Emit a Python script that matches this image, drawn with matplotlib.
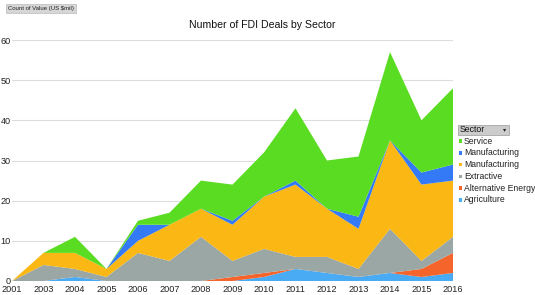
import matplotlib
matplotlib.use("Agg")
import matplotlib.pyplot as plt
import numpy as np

plt.rcParams['font.family'] = ['Liberation Sans', 'DejaVu Sans']

years = ["2001", "2003", "2004", "2005", "2006", "2007", "2008", "2009",
         "2010", "2011", "2012", "2013", "2014", "2015", "2016"]
agriculture = [0, 0, 1, 0, 0, 0, 0, 0, 1, 3, 2, 1, 2, 1, 2]
alt_energy = [0, 0, 0, 0, 0, 0, 0, 1, 1, 0, 0, 0, 0, 2, 5]
extractive = [0, 4, 2, 1, 7, 5, 11, 4, 6, 3, 4, 2, 11, 2, 4]
manufacturing_y = [0, 3, 4, 2, 3, 9, 7, 9, 13, 18, 12, 10, 22, 19, 14]
manufacturing_b = [0, 0, 0, 0, 4, 0, 0, 1, 0, 1, 0, 3, 0, 3, 4]
service = [0, 0, 4, 0, 1, 3, 7, 9, 11, 18, 12, 15, 22, 13, 19]

series_names = ["Agriculture", "Alternative Energy", "Extractive",
                "Manufacturing", "Manufacturing", "Service"]
colors = ["#4AABF5", "#F5642A", "#9AA7A5", "#FBB713", "#3479F6", "#5ADC23"]

fig = plt.figure(figsize=(5.35, 2.95), dpi=100)
ax = fig.add_axes([12/535, 14/295, (453-12)/535, (281-40)/295])
x = np.arange(len(years))
ax.stackplot(x, agriculture, alt_energy, extractive, manufacturing_y,
             manufacturing_b, service, colors=colors, linewidth=0)
ax.set_xlim(0, len(years)-1)
ax.set_ylim(0, 60)
ax.set_yticks(range(0, 61, 10))
ax.set_xticks(x)
ax.set_xticklabels(years)
ax.grid(axis="y", color="#dddddd", linewidth=0.8)
ax.set_axisbelow(True)
for s in ax.spines.values():
    s.set_visible(False)
ax.tick_params(length=0, labelsize=6.6, colors="#222222")
ax.tick_params(axis="x", pad=3.2)
ax.tick_params(axis="y", pad=1)

fig.text(262/535, 1-25/295, "Number of FDI Deals by Sector", ha="center",
         va="center", fontsize=7.6, color="#111111")

# Top-left field button
fig.text(8/535, 1-8.5/295, "Count of Value (US $mil)", ha="left", va="center",
         fontsize=4.3, color="#222222",
         bbox=dict(boxstyle="square,pad=0.35", fc="#d6d6d6", ec="#bbbbbb", lw=0.5))

# Legend
fig.patches.append(plt.Rectangle((458/535, 1-135/295), 51/535, 10/295,
                                 transform=fig.transFigure, fc="#cccccc",
                                 ec="#999999", lw=0.5))
fig.text(460/535, 1-130/295, "Sector", ha="left", va="center", fontsize=6.3,
         color="#111111")
fig.text(503/535, 1-130/295, "\u25be", ha="left", va="center", fontsize=4.5,
         color="#222222", family="DejaVu Sans")
legend_order = [5, 4, 3, 2, 1, 0]
for i, idx in enumerate(legend_order):
    yy = 1 - (141 + i*11.8)/295
    fig.patches.append(plt.Rectangle((458.5/535, yy - 1.8/295), 3.6/535, 3.6/295,
                                     transform=fig.transFigure, fc=colors[idx],
                                     ec="none"))
    fig.text(464/535, yy, series_names[idx], ha="left", va="center",
             fontsize=6.2, color="#222222")

fig.savefig("out.png", dpi=100)
